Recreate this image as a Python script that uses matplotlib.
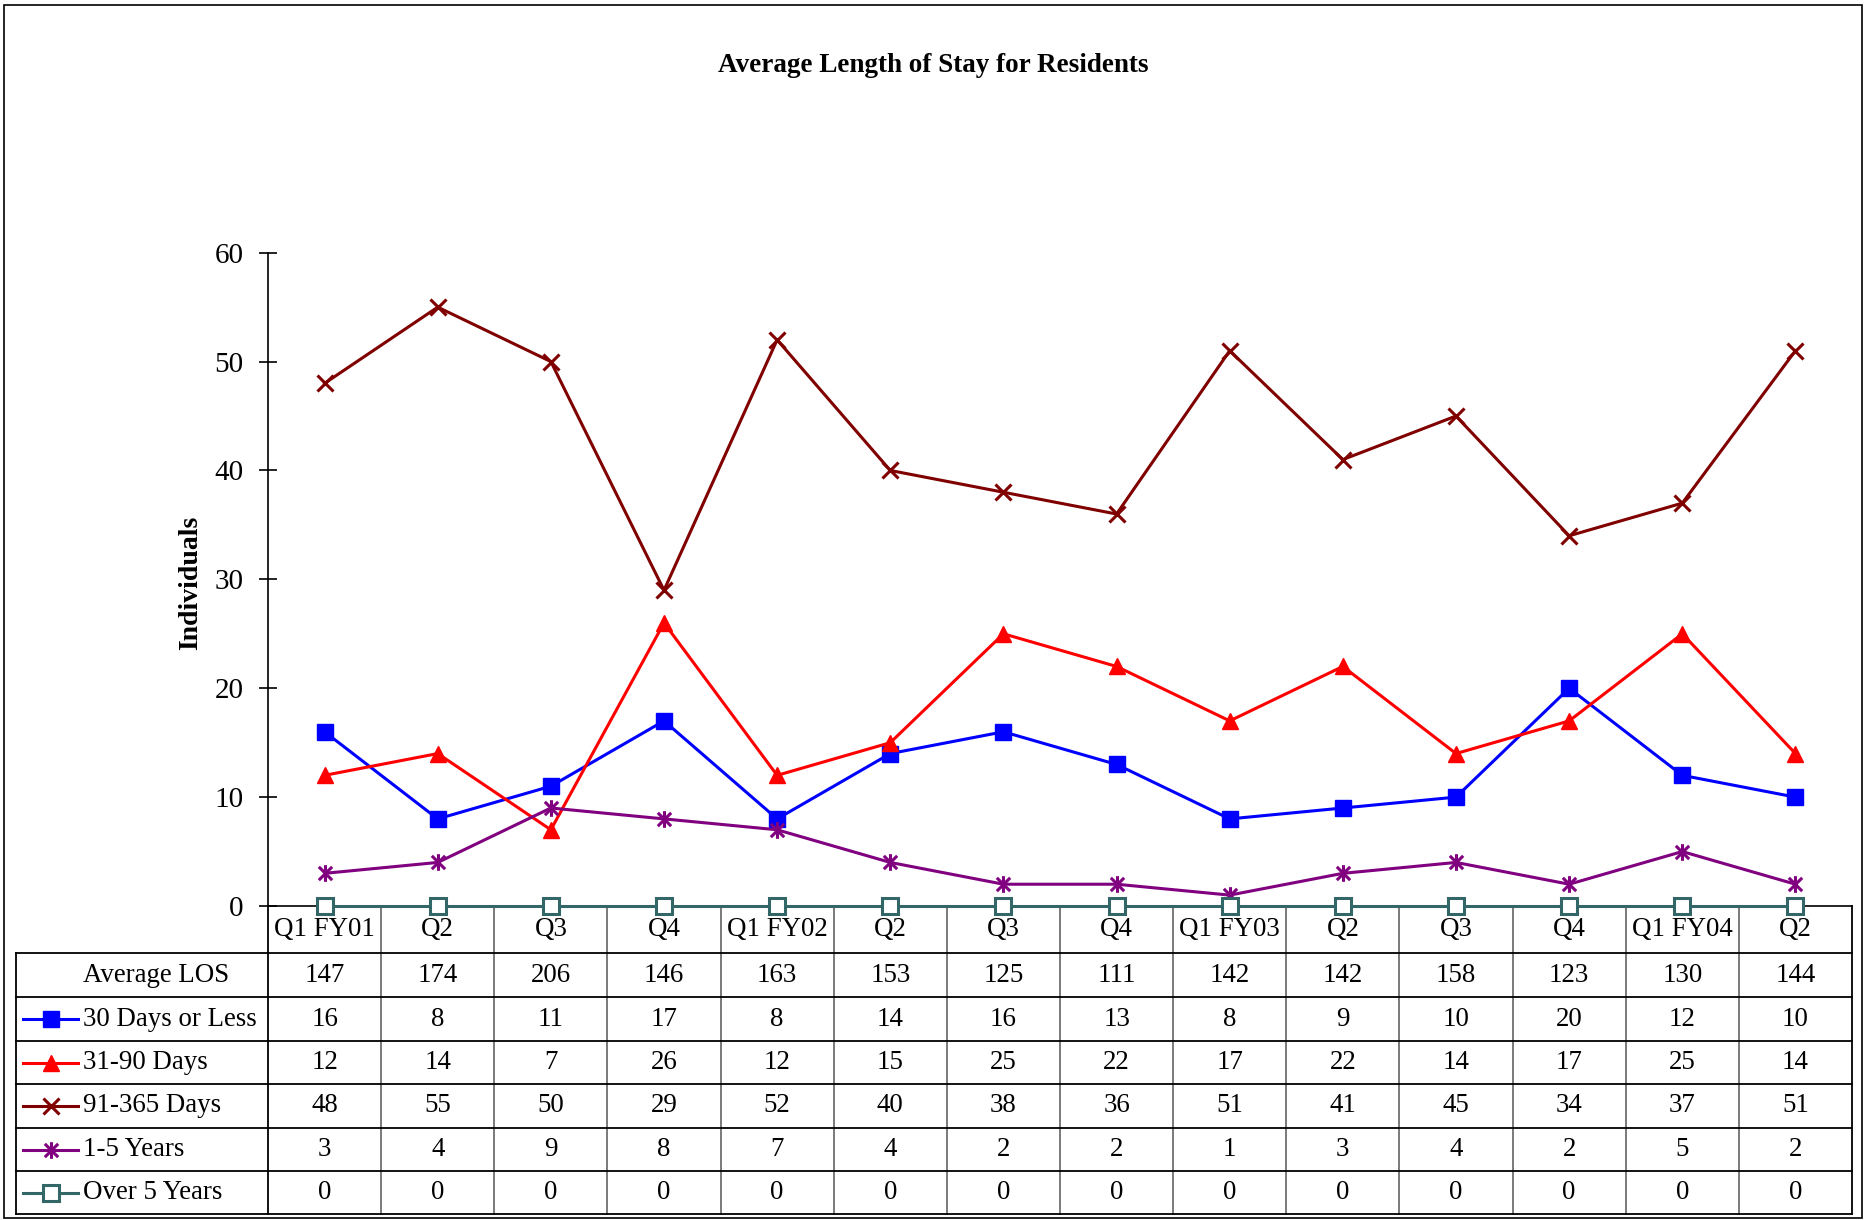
import matplotlib
matplotlib.use("Agg")
import matplotlib.pyplot as plt
import matplotlib.transforms as mtransforms
from matplotlib.lines import Line2D
from matplotlib.patches import Rectangle
from matplotlib.path import Path

plt.rcParams['font.family'] = ['Liberation Serif', 'DejaVu Serif']

# ---------------- data ----------------
categories = ["Q1 FY01", "Q2", "Q3", "Q4", "Q1 FY02", "Q2", "Q3", "Q4",
              "Q1 FY03", "Q2", "Q3", "Q4", "Q1 FY04", "Q2"]
avg_los = [147, 174, 206, 146, 163, 153, 125, 111, 142, 142, 158, 123, 130, 144]
days_30_or_less = [16, 8, 11, 17, 8, 14, 16, 13, 8, 9, 10, 20, 12, 10]
days_31_90 = [12, 14, 7, 26, 12, 15, 25, 22, 17, 22, 14, 17, 25, 14]
days_91_365 = [48, 55, 50, 29, 52, 40, 38, 36, 51, 41, 45, 34, 37, 51]
years_1_5 = [3, 4, 9, 8, 7, 4, 2, 2, 1, 3, 4, 2, 5, 2]
over_5_years = [0, 0, 0, 0, 0, 0, 0, 0, 0, 0, 0, 0, 0, 0]
series_names = ["30 Days or Less", "31-90 Days", "91-365 Days", "1-5 Years", "Over 5 Years"]
y_ticks = [0, 10, 20, 30, 40, 50, 60]

# ---------------- styles ----------------
M, L = Path.MOVETO, Path.LINETO
asterisk = Path([(-1, -1), (1, 1), (-1, 1), (1, -1), (0, -1.25), (0, 1.25)],
                [M, L, M, L, M, L])
styles = [
    dict(color='#0000FF', marker='s', ms=11, mfc='#0000FF', mec='#0000FF', mew=1),
    dict(color='#FF0000', marker='^', ms=12, mfc='#FF0000', mec='#FF0000', mew=1),
    dict(color='#800000', marker='x', ms=12, mfc='#800000', mec='#800000', mew=2.2),
    dict(color='#800080', marker=asterisk, ms=12, mfc='#800080', mec='#800080', mew=2.2),
    dict(color='#336666', marker='s', ms=11, mfc='white', mec='#336666', mew=2.2),
]
series_values = [days_30_or_less, days_31_90, days_91_365, years_1_5, over_5_years]

W, H = 1864, 1220
fig = plt.figure(figsize=(W / 100, H / 100), dpi=100)

def fx(px):
    return px / W

def fy(py):
    return 1 - py / H

ax_left, ax_right, ax_top, ax_bottom = 268, 1852, 252.7, 906
ax = fig.add_axes([fx(ax_left), fy(ax_bottom), fx(ax_right - ax_left), (ax_bottom - ax_top) / H])
ax.set_xlim(-0.5, len(categories) - 0.5)
ax.set_ylim(0, 60)
ax.set_yticks(y_ticks)
ax.set_xticks([])
for s in ['top', 'right']:
    ax.spines[s].set_visible(False)
ax.spines['left'].set_linewidth(1.2)
ax.spines['bottom'].set_linewidth(1.2)
ax.tick_params(axis='y', direction='inout', length=13, width=1.2, labelsize=21, pad=11)
ax.patch.set_alpha(0)

x = list(range(len(categories)))
for vals, st, name in zip(series_values, styles, series_names):
    ax.plot(x, vals, color=st['color'], lw=2.2, marker=st['marker'], ms=st['ms'],
            mfc=st['mfc'], mec=st['mec'], mew=st['mew'], clip_on=False, zorder=3, label=name)

fig.text(fx(191), fy(583), "Individuals", rotation=90, ha='center', va='center',
         fontsize=20, fontweight='bold')
fig.text(fx(933), fy(65), "Average Length of Stay for Residents", ha='center', va='center',
         fontsize=19.5, fontweight='bold')

# ---------------- data table ----------------
tr = mtransforms.blended_transform_factory(ax.transData, fig.transFigure)
row_edges = [906, 953, 997, 1041, 1084, 1128, 1171, 1214]
table_left = 16
n = len(categories)
FS = 19.4

# vertical lines
for i in range(n + 1):
    xi = i - 0.5
    col = '#000000' if i in (0, n) else '#707070'
    ax.add_line(Line2D([xi, xi], [fy(906), fy(1214)], transform=tr, color=col,
                       lw=1.3, clip_on=False))
fig.add_artist(Line2D([fx(table_left), fx(table_left)], [fy(953), fy(1214)], color='black', lw=1.3))
# horizontal lines
for ry in row_edges[1:]:
    fig.add_artist(Line2D([fx(table_left), fx(ax_right)], [fy(ry), fy(ry)], color='black', lw=1.3))

# header
hc = (row_edges[0] + row_edges[1]) / 2
for i, c in enumerate(categories):
    ax.text(i, fy(hc), c, transform=tr, ha='center', va='center', fontsize=FS, clip_on=False)

rows = [avg_los] + series_values
for r, vals in enumerate(rows):
    cy = (row_edges[r + 1] + row_edges[r + 2]) / 2
    for i, v in enumerate(vals):
        ax.text(i, fy(cy), str(v), transform=tr, ha='center', va='center', fontsize=FS, clip_on=False)

# row labels with legend keys
fig.text(fx(83), fy((row_edges[1] + row_edges[2]) / 2), "Average LOS", ha='left', va='center', fontsize=FS)
for r, (name, st) in enumerate(zip(series_names, styles)):
    cy = (row_edges[r + 2] + row_edges[r + 3]) / 2
    fig.add_artist(Line2D([fx(23), fx(78)], [fy(cy), fy(cy)], color=st['color'], lw=2.2))
    fig.add_artist(Line2D([fx(50.5)], [fy(cy)], color=st['color'], lw=0, marker=st['marker'],
                          ms=st['ms'], mfc=st['mfc'], mec=st['mec'], mew=st['mew']))
    fig.text(fx(83), fy(cy), name, ha='left', va='center', fontsize=FS)

# outer border
fig.add_artist(Rectangle((fx(4), fy(1218)), fx(1862 - 4), (1218 - 5) / H, fill=False,
                         edgecolor='black', lw=1.2))

fig.savefig('out.png', dpi=100)
